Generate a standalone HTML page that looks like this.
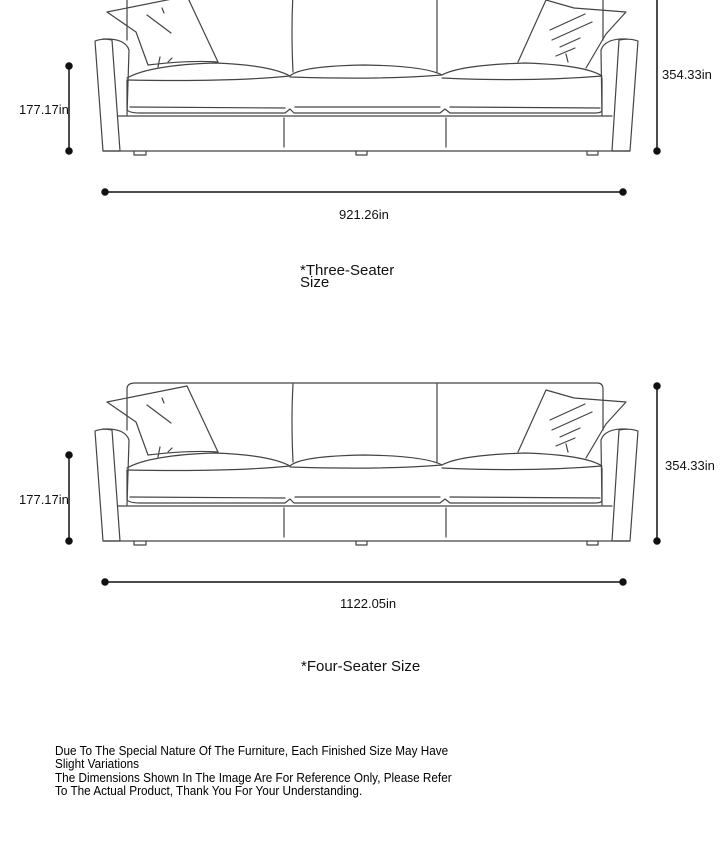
<!DOCTYPE html>
<html><head><meta charset="utf-8"><style>
html,body{margin:0;padding:0;background:#fff;width:720px;height:849px;overflow:hidden;position:relative}
.t{position:absolute;font-family:"Liberation Sans",sans-serif;color:#111;white-space:nowrap}
svg{position:absolute;left:0;top:0}
</style></head><body>
<svg width="720" height="849" viewBox="0 0 720 849">
<defs>
<g id="sofa" fill="none" stroke="#444" stroke-width="1.2" stroke-linejoin="round" stroke-linecap="round">
 <path d="M127 430 L127 389 Q127 383 135 383 L597 383 Q603 383 603 389 L603 430"/>
 <path d="M293 384 Q291 420 293 462"/>
 <path d="M437 384 L437 462"/>
 <path d="M107 402 L187 386 L218 452 Q190 450 148 455 L136 422 Z"/>
 <path d="M147 405 L171 423 M162 398 L164 403 M158 457 L160 447 M168 452 L172 448"/>
 <path d="M518 452 L546 390 L574 398 L626 402 L606 424 L586 458"/>
 <path d="M550 420 L585 404 M552 430 L592 412 M560 437 L580 428 M556 446 L575 438 M566 444 L568 452"/>
 <path d="M95 431 L103 541 L120 541 L112 430 Q103 428 95 431 Z"/>
 <path d="M103 429 Q125 428 129 440 L127 505"/>
 <path d="M638 431 L630 541 L612 541 L619 430 Q630 428 638 431 Z"/>
 <path d="M627 429 Q605 428 601 440 L602 505"/>
 <path d="M127 468 Q150 455 215 453 Q270 455 290 466 Q230 472 127 470"/>
 <path d="M290 466 Q300 456 365 455 Q425 456 442 465 Q380 470 290 467"/>
 <path d="M442 465 Q460 455 525 453 Q585 455 602 466 Q530 472 442 468"/>
 <path d="M127 470 L127 500 Q130 503 140 503 L285 503 L290 499 L294 503 L440 503 L445 499 L450 503 L595 503 Q602 503 602 500 L602 468"/>
 <path d="M130 497 L285 498 M295 497 L440 497 M450 497 L600 498"/>
 <path d="M118 506 L612 506"/>
 <path d="M103 541 L630 541"/>
 <path d="M284 508 L284 537 M446 508 L446 537"/>
 <path d="M134 541 L134 545 L146 545 L146 541 M356 541 L356 545 L367 545 L367 541 M587 541 L587 545 L598 545 L598 541"/>
</g>
</defs>
<use href="#sofa" transform="translate(0,-390)"/>
<use href="#sofa"/>
<g stroke="#111" stroke-width="1.5" fill="#111">
 <line x1="69" y1="66" x2="69" y2="151"/><circle cx="69" cy="66" r="3"/><circle cx="69" cy="151" r="3"/>
 <line x1="657" y1="0" x2="657" y2="151"/><circle cx="657" cy="151" r="3"/>
 <line x1="105" y1="192" x2="623" y2="192"/><circle cx="105" cy="192" r="3"/><circle cx="623" cy="192" r="3"/>
 <line x1="69" y1="455" x2="69" y2="541"/><circle cx="69" cy="455" r="3"/><circle cx="69" cy="541" r="3"/>
 <line x1="657" y1="386" x2="657" y2="541"/><circle cx="657" cy="386" r="3"/><circle cx="657" cy="541" r="3"/>
 <line x1="105" y1="582" x2="623" y2="582"/><circle cx="105" cy="582" r="3"/><circle cx="623" cy="582" r="3"/>
</g>
</svg>
<div class="t" style="left:19px;top:102px;font-size:13px">177.17in</div>
<div class="t" style="left:662px;top:67px;font-size:13px">354.33in</div>
<div class="t" style="left:339px;top:207px;font-size:13px">921.26in</div>
<div class="t" style="left:300px;top:265px;font-size:15px;line-height:12px">*Three-Seater<br>Size</div>
<div class="t" style="left:19px;top:492px;font-size:13px">177.17in</div>
<div class="t" style="left:665px;top:458px;font-size:13px">354.33in</div>
<div class="t" style="left:340px;top:596px;font-size:13px">1122.05in</div>
<div class="t" style="left:301px;top:658px;font-size:15px">*Four-Seater Size</div>
<div class="t" style="left:55px;top:745px;font-size:12.5px;line-height:13.3px;transform:scaleX(0.94);transform-origin:0 0;color:#000">Due To The Special Nature Of The Furniture, Each Finished Size May Have<br>Slight Variations<br>The Dimensions Shown In The Image Are For Reference Only, Please Refer<br>To The Actual Product, Thank You For Your Understanding.</div>
</body></html>
